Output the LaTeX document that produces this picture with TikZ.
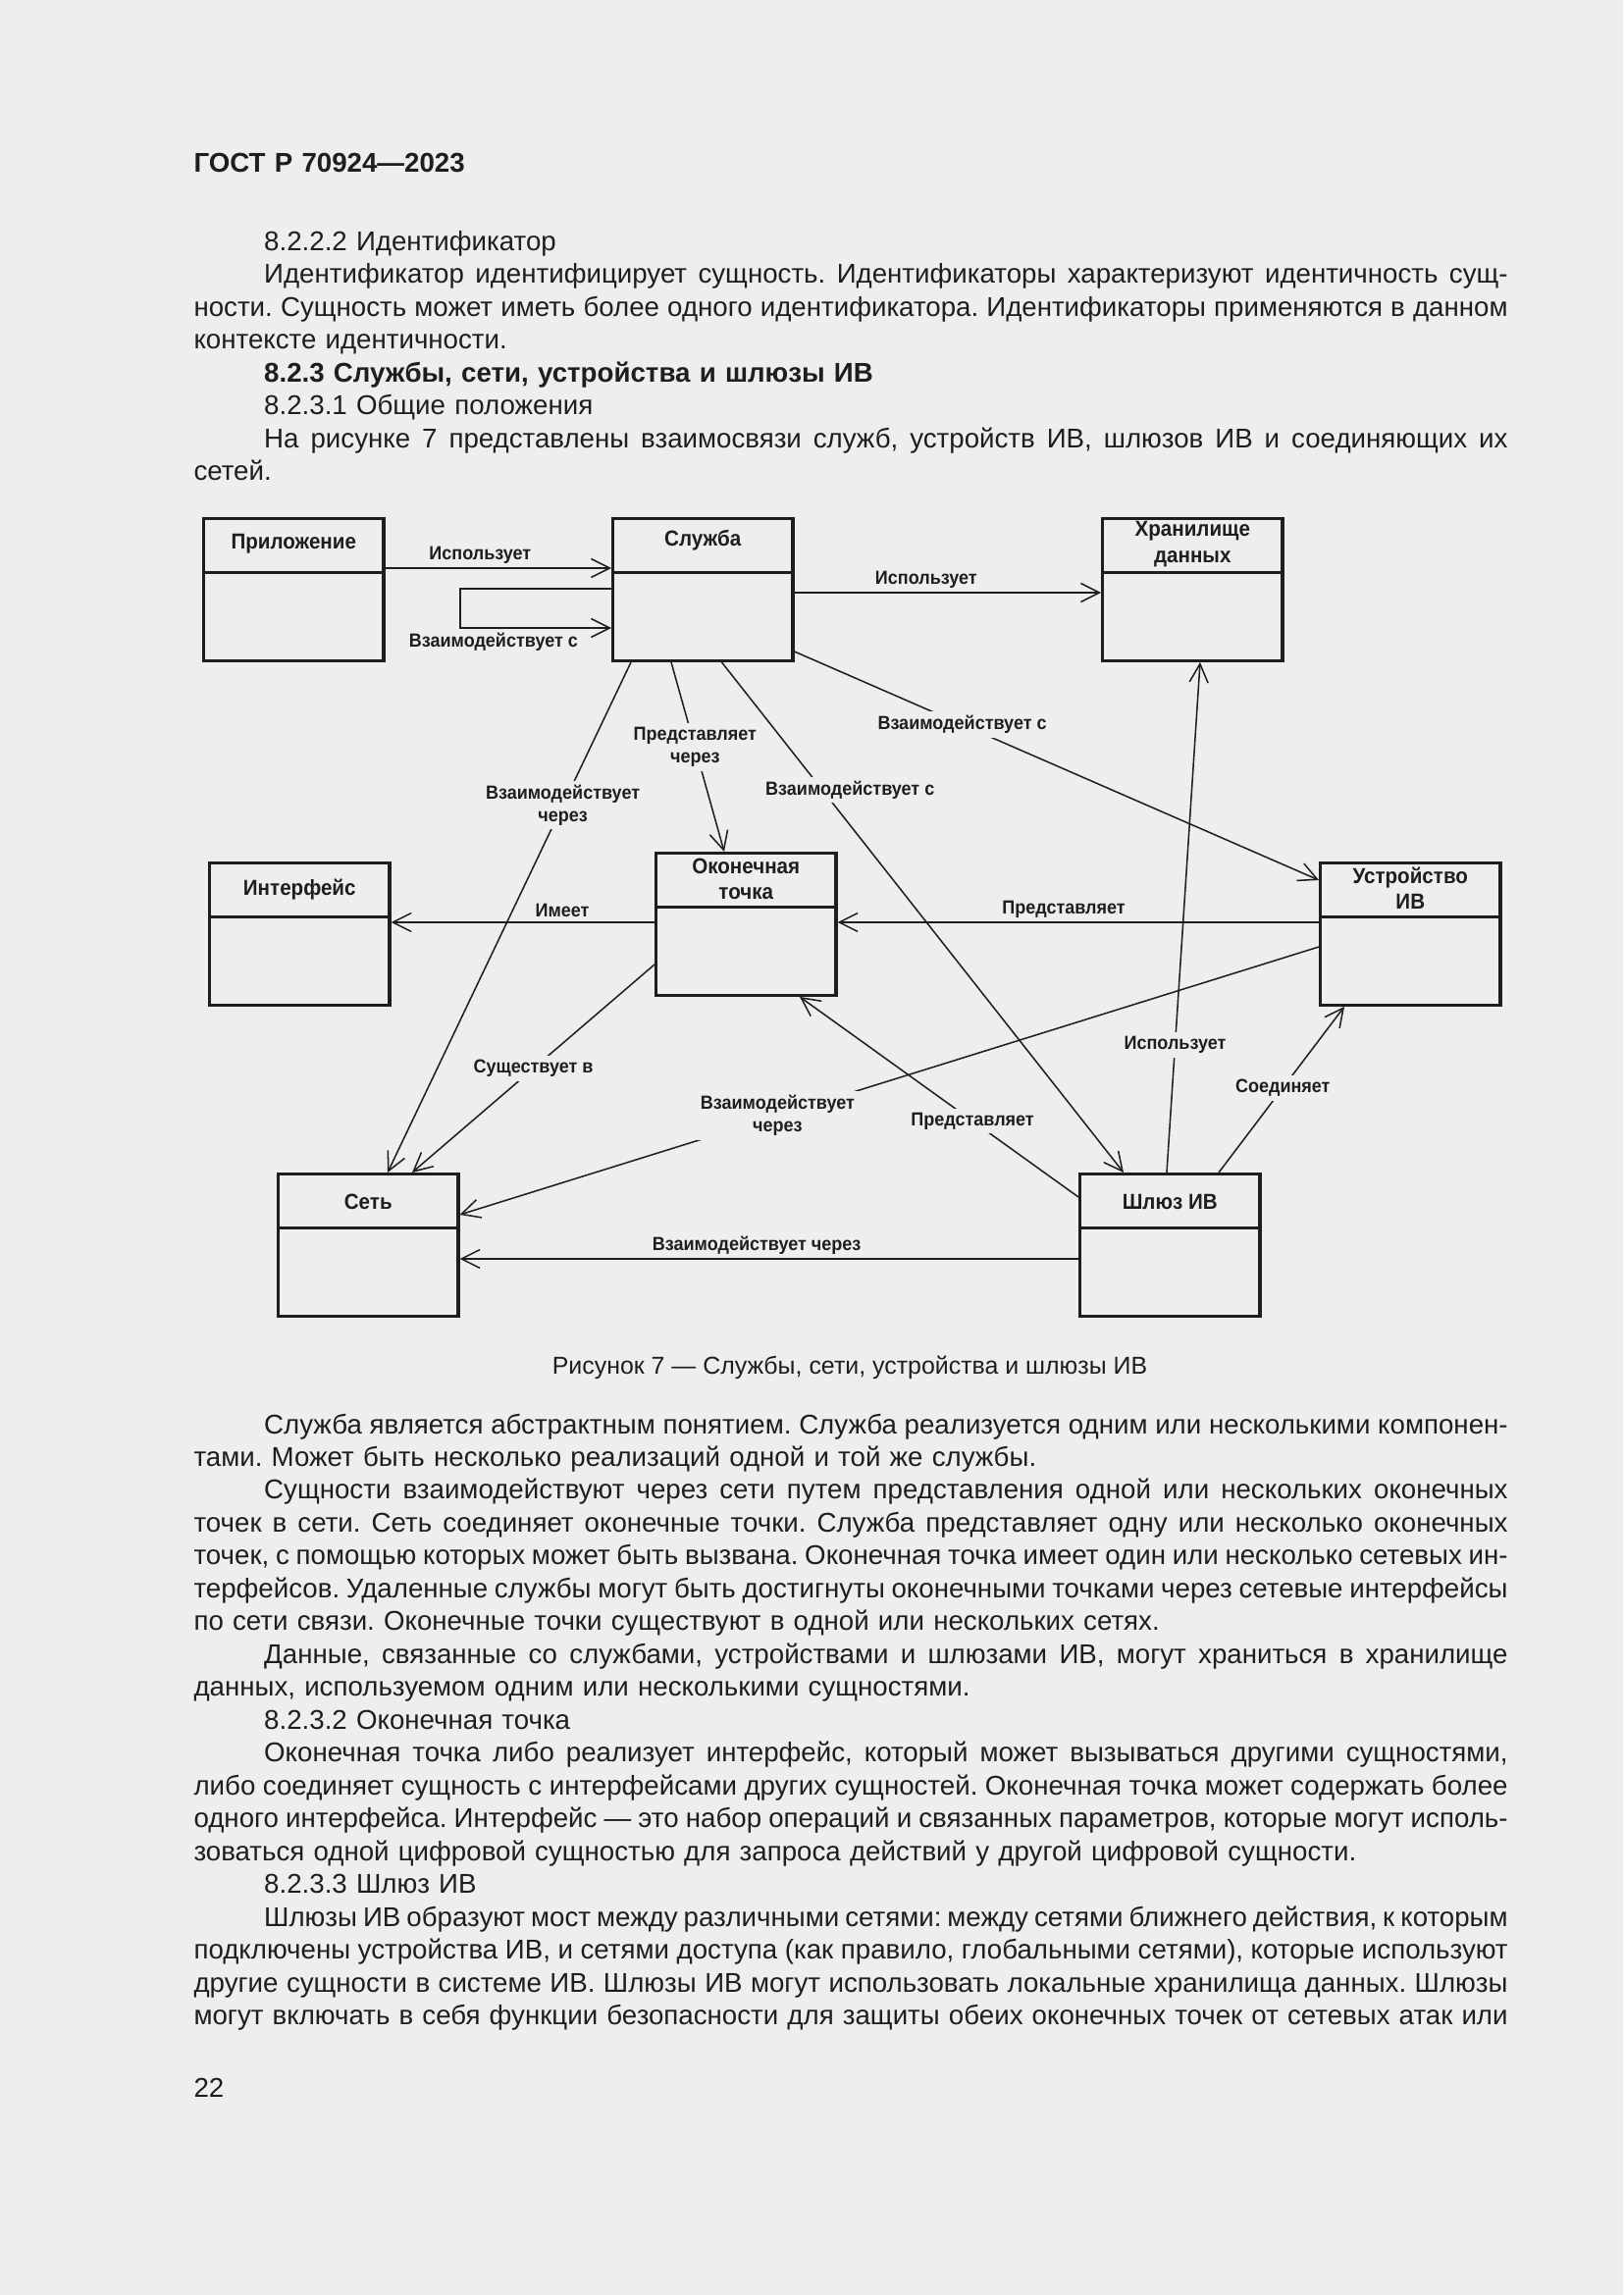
\documentclass[tikz,border=0pt]{standalone}
\usepackage{fontspec}
\setmainfont{Liberation Sans}
\newfontfamily\diagfont{Liberation Sans}[FakeStretch=0.93]
\usetikzlibrary{arrows.meta,calc}
\definecolor{paper}{HTML}{EEEEEE}
\definecolor{ink}{HTML}{1E1E1E}
\frenchspacing
\newlength\tw
\setlength\tw{170.05mm}
% justified line of the page text
\newcommand{\jl}[1]{\leavevmode{\spaceskip=\fontdimen2\font plus 1\fontdimen2\font minus 0.65\fontdimen2\font
  \xspaceskip=\spaceskip \hbox to\tw{#1}}}
\newcommand{\ind}{\hspace*{9.1mm}}
\tikzstyle{entity} = [draw=ink, line width=1.1pt, minimum width=23.3mm, minimum height=18.4mm, anchor=north west,
  path picture={\draw[ink, line width=1.1pt] ([yshift=-6.985mm]path picture bounding box.north west) -- ([yshift=-6.985mm]path picture bounding box.north east);}]
\tikzstyle{etitle} = [font=\diagfont\bfseries\fontsize{8}{9.5}\selectfont, align=center, inner sep=0pt]
\tikzstyle{lbl} = [font=\diagfont\bfseries\fontsize{7}{8.3}\selectfont, align=center, inner sep=1.5pt]
\tikzstyle{gap} = [fill=paper]
\tikzstyle{txt} = [anchor=base west, text width=\tw, align=left, inner sep=0pt, font=\fontsize{10}{12.1}\selectfont]
\tikzset{
  line/.style ={draw=ink, line width=0.55pt, -{Straight Barb[length=2.4mm,width=2.4mm]}}
}

\begin{document}
\begin{tikzpicture}[x=0.127mm, y=-0.127mm, every node/.style={text=ink}]
  \fill[paper] (0,0) rectangle (1654,2339);

  % page text
  \node[txt, font=\bfseries\fontsize{10}{12.1}\selectfont] (head) at (197,176) {ГОСТ Р 70924—2023};
  \node[txt] (top) at (197,255.5) {\ind 8.2.2.2 Идентификатор\\
    \jl{\ind Идентификатор идентифицирует сущность. Идентификаторы характеризуют идентичность сущ-}\\
    \jl{ности. Сущность может иметь более одного идентификатора. Идентификаторы применяются в данном}\\
    контексте идентичности.\\
    \ind\textbf{8.2.3 Службы, сети, устройства и шлюзы ИВ}\\
    \ind 8.2.3.1 Общие положения\\
    \jl{\ind На рисунке 7 представлены взаимосвязи служб, устройств ИВ, шлюзов ИВ и соединяющих их}\\
    сетей.};

  % entities
  \node[entity] (app) at (206,527) {};
  \node[etitle] (app-t) at ($(app.north)+(0,27.5)$) {Приложение};
  \node[entity] (svc) at (623,527) {};
  \node[etitle] (svc-t) at ($(svc.north)+(0,24)$) {Служба};
  \node[entity] (store) at (1122,527) {};
  \node[etitle] (store-t) at ($(store.north)+(0,27.5)$) {Хранилище\\данных};
  \node[entity] (iface) at (212,878) {};
  \node[etitle] (iface-t) at ($(iface.north)+(0,29)$) {Интерфейс};
  \node[entity] (ep) at (667,868) {};
  \node[etitle] (ep-t) at ($(ep.north)+(0,28)$) {Оконечная\\точка};
  \node[entity] (dev) at (1344,878) {};
  \node[etitle] (dev-t) at ($(dev.north)+(0,27.5)$) {Устройство\\ИВ};
  \node[entity] (net) at (282,1195) {};
  \node[etitle] (net-t) at ($(net.north)+(0,30)$) {Сеть};
  \node[entity] (gw) at (1099,1195) {};
  \node[etitle] (gw-t) at ($(gw.north)+(0,30)$) {Шлюз ИВ};

  % relations
  \path[line] (app.east |- 0,579) -- node[lbl, above, pos=.42] (l-use1) {Использует} (svc.west |- 0,579);
  \path[line] (svc.west |- 0,600) -- ++(-154,0) |- node[lbl, below, pos=.61] (l-self) {Взаимодействует с} (svc.west |- 0,640);
  \path[line] (svc.east |- 0,604) -- node[lbl, above, pos=.43] (l-use2) {Использует} (store.west |- 0,604);
  \path[line] (svc.east |- 0,664) -- node[lbl, gap, pos=.32] (l-int1) {Взаимодействует с} (dev.west |- 0,897);
  \path[line] (gw.north -| 1189,0) -- node[lbl, gap, pos=.25] (l-use3) {Использует} (store.south -| 1223,0);
  \path[line] (gw.north -| 1242,0) -- node[lbl, gap, pos=.51] (l-con) {Соединяет} (dev.south -| 1370,0);
  \path[line] (dev.west |- 0,940) -- node[lbl, above, pos=.53] (l-rep1) {Представляет} (ep.east |- 0,940);
  \path[line] (dev.west |- 0,965) -- node[lbl, gap, pos=.63] (l-via1) {Взаимодействует\\через} (net.east |- 0,1238);
  \path[line] (ep.west |- 0,940) -- node[lbl, above, pos=.35] (l-has) {Имеет} (iface.east |- 0,940);
  \path[line] (ep.west |- 0,983) -- node[lbl, gap, pos=.5] (l-in) {Существует в} (net.north -| 420,0);
  \path[line] (svc.south -| 643,0) -- node[lbl, gap, pos=.28] (l-via2) {Взаимодействует\\через} (net.north -| 395,0);
  \path[line] (svc.south -| 684,0) -- node[lbl, gap, pos=.45] (l-rep2) {Представляет\\через} (ep.north -| 738,0);
  \path[line] (svc.south -| 735.5,0) -- node[lbl, gap, pos=.25, xshift=3.6mm] (l-int2) {Взаимодействует с} (gw.north -| 1145,0);
  \path[line] (gw.west |- 0,1220) -- node[lbl, gap, pos=.38] (l-rep3) {Представляет} (ep.south -| 815,0);
  \path[line] (gw.west |- 0,1283) -- node[lbl, above, pos=.52] (l-via3) {Взаимодействует через} (net.east |- 0,1283);

  \node[txt, anchor=base, text width=, font=\fontsize{9}{11}\selectfont] (cap) at (866,1400) {Рисунок 7 — Службы, сети, устройства и шлюзы ИВ};

  \node[txt] (bottom) at (197,1461) {\jl{\ind Служба является абстрактным понятием. Служба реализуется одним или несколькими компонен-}\\
    тами. Может быть несколько реализаций одной и той же службы.\\
    \jl{\ind Сущности взаимодействуют через сети путем представления одной или нескольких оконечных}\\
    \jl{точек в сети. Сеть соединяет оконечные точки. Служба представляет одну или несколько оконечных}\\
    \jl{точек, с помощью которых может быть вызвана. Оконечная точка имеет один или несколько сетевых ин-}\\
    \jl{терфейсов. Удаленные службы могут быть достигнуты оконечными точками через сетевые интерфейсы}\\
    по сети связи. Оконечные точки существуют в одной или нескольких сетях.\\
    \jl{\ind Данные, связанные со службами, устройствами и шлюзами ИВ, могут храниться в хранилище}\\
    данных, используемом одним или несколькими сущностями.\\
    \ind 8.2.3.2 Оконечная точка\\
    \jl{\ind Оконечная точка либо реализует интерфейс, который может вызываться другими сущностями,}\\
    \jl{либо соединяет сущность с интерфейсами других сущностей. Оконечная точка может содержать более}\\
    \jl{одного интерфейса. Интерфейс — это набор операций и связанных параметров, которые могут исполь-}\\
    зоваться одной цифровой сущностью для запроса действий у другой цифровой сущности.\\
    \ind 8.2.3.3 Шлюз ИВ\\
    \jl{\ind Шлюзы ИВ образуют мост между различными сетями: между сетями ближнего действия, к которым}\\
    \jl{подключены устройства ИВ, и сетями доступа (как правило, глобальными сетями), которые используют}\\
    \jl{другие сущности в системе ИВ. Шлюзы ИВ могут использовать локальные хранилища данных. Шлюзы}\\
    \jl{могут включать в себя функции безопасности для защиты обеих оконечных точек от сетевых атак или}};

  \node[txt] (pageno) at (197,2137) {22};
\end{tikzpicture}
\end{document}
